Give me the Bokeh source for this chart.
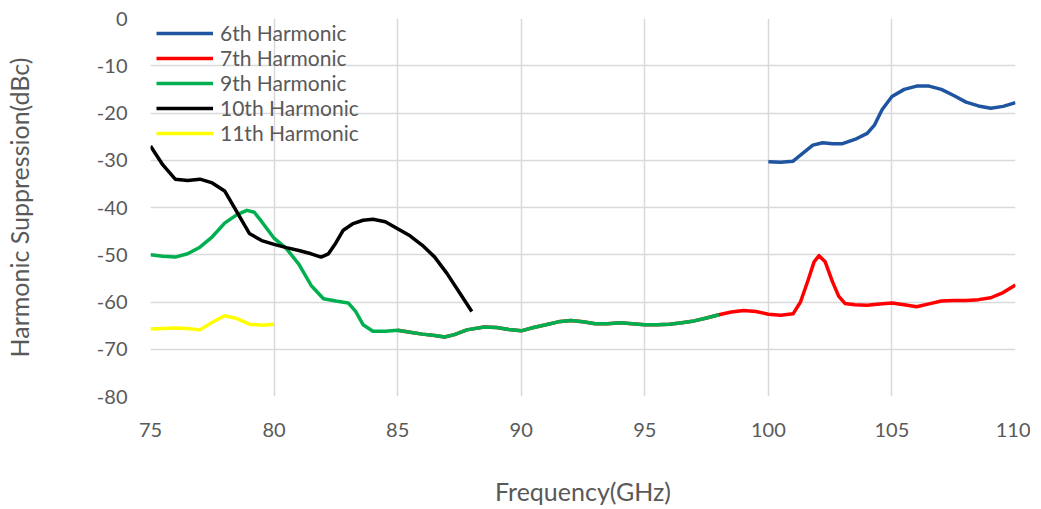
from bokeh.plotting import figure
from bokeh.models import FixedTicker, Legend, LegendItem, Range1d
from bokeh.embed import file_html
from bokeh.resources import INLINE

# ---- data ----
h6_x = [100, 100.5, 101, 101.4, 101.8, 102.2, 102.6, 103, 103.5, 104, 104.3, 104.6, 105, 105.5,
        106, 106.5, 107, 107.5, 108, 108.5, 109, 109.5, 110]
h6_y = [-30.3, -30.4, -30.2, -28.5, -26.8, -26.3, -26.5, -26.5, -25.6, -24.3, -22.5, -19.3, -16.5, -15.0,
        -14.3, -14.3, -15.0, -16.3, -17.7, -18.5, -19.0, -18.6, -17.8]

h7_x = [85, 85.5, 86, 86.5, 86.9, 87.3, 87.8, 88.5, 89, 89.5, 90, 90.5, 91, 91.5, 92, 92.5, 93, 93.5,
        94, 94.5, 95, 95.5, 96, 96.5, 97, 97.5, 98, 98.5, 99, 99.5, 100, 100.5, 101, 101.3, 101.6,
        101.85, 102.05, 102.3, 102.6, 102.85, 103.1, 103.5, 104, 104.5, 105, 105.5, 106, 106.5, 107,
        107.5, 108, 108.5, 109, 109.5, 110]
h7_y = [-66.0, -66.4, -66.8, -67.1, -67.4, -66.9, -65.9, -65.3, -65.4, -65.8, -66.1, -65.4, -64.8, -64.2,
        -63.9, -64.2, -64.6, -64.6, -64.4, -64.6, -64.8, -64.8, -64.7, -64.4, -64.0, -63.4, -62.7,
        -62.1, -61.8, -62.0, -62.6, -62.8, -62.5, -60.0, -55.5, -51.5, -50.2, -51.5, -55.8, -58.8,
        -60.3, -60.6, -60.7, -60.4, -60.2, -60.6, -61.0, -60.4, -59.8, -59.7, -59.7, -59.5, -59.1,
        -58.0, -56.4]

h9_x = [75, 75.5, 76, 76.5, 77, 77.5, 78, 78.5, 78.9, 79.2, 79.5, 80, 80.5, 81, 81.5, 82, 82.5, 83,
        83.3, 83.6, 84, 84.5, 85, 85.5, 86, 86.5, 86.9, 87.3, 87.8, 88.5, 89, 89.5, 90, 90.5, 91,
        91.5, 92, 92.5, 93, 93.5, 94, 94.5, 95, 95.5, 96, 96.5, 97, 97.5, 98]
h9_y = [-50.0, -50.3, -50.5, -49.8, -48.4, -46.2, -43.3, -41.5, -40.6, -41.0, -43.0, -46.5, -48.7,
        -52.0, -56.5, -59.3, -59.8, -60.2, -62.0, -64.8, -66.2, -66.2, -66.0, -66.4, -66.8, -67.1,
        -67.4, -66.9, -65.9, -65.3, -65.4, -65.8, -66.1, -65.4, -64.8, -64.2, -63.9, -64.2, -64.6,
        -64.6, -64.4, -64.6, -64.8, -64.8, -64.7, -64.4, -64.0, -63.4, -62.7]

h10_x = [75, 75.5, 76, 76.5, 77, 77.5, 78, 78.5, 79, 79.5, 80, 80.5, 81, 81.5, 81.9, 82.2, 82.5, 82.8,
         83.2, 83.6, 84, 84.5, 85, 85.5, 86, 86.5, 87, 87.5, 88]
h10_y = [-27.0, -31.0, -34.0, -34.3, -34.0, -34.8, -36.5, -41.0, -45.5, -47.0, -47.8, -48.5, -49.1,
         -49.8, -50.5, -49.8, -47.5, -44.8, -43.4, -42.7, -42.5, -43.0, -44.5, -46.0, -48.0, -50.5,
         -54.0, -58.0, -62.0]

h11_x = [75, 75.5, 76, 76.5, 77, 77.5, 78, 78.5, 79, 79.5, 80]
h11_y = [-65.7, -65.6, -65.5, -65.6, -65.9, -64.3, -62.9, -63.5, -64.7, -64.9, -64.7]

x_ticks = [75, 80, 85, 90, 95, 100, 105, 110]
y_ticks = [0, -10, -20, -30, -40, -50, -60, -70, -80]
y_tick_labels = ["0", "-10", "-20", "-30", "-40", "-50", "-60", "-70", "-80"]

FONT = "Lato"
TXT = "#595959"

p = figure(width=1030, height=508, output_backend="svg", toolbar_location=None,
           x_range=Range1d(75, 110), y_range=Range1d(-80, 0),
           min_border_left=150, min_border_right=15, min_border_top=18, min_border_bottom=110)
p.outline_line_color = None
p.background_fill_color = "white"
p.border_fill_color = "white"

for ax in (p.xaxis[0], p.yaxis[0]):
    ax.axis_line_color = None
    ax.major_tick_line_color = None
    ax.minor_tick_line_color = None
    ax.major_label_text_font = FONT
    ax.major_label_text_font_size = "20px"
    ax.major_label_text_color = TXT
    ax.axis_label_text_font = FONT
    ax.axis_label_text_font_size = "25px"
    ax.axis_label_text_font_style = "normal"
    ax.axis_label_text_color = TXT

p.xaxis.ticker = FixedTicker(ticks=x_ticks)
p.yaxis.ticker = FixedTicker(ticks=y_ticks)
p.yaxis.major_label_overrides = {t: s for t, s in zip(y_ticks, y_tick_labels)}
p.xaxis.axis_label = "Frequency(GHz)"
p.yaxis.axis_label = "Harmonic Suppression(dBc)"
p.xaxis.major_label_standoff = 20
p.yaxis.major_label_standoff = 17
p.xaxis.axis_label_standoff = 36
p.yaxis.axis_label_standoff = 60

p.xgrid.grid_line_color = "#d9d9d9"
p.ygrid.grid_line_color = "#d9d9d9"
p.xgrid.grid_line_width = 1.5
p.ygrid.grid_line_width = 1.5

W = 3.5
r7 = p.line(h7_x, h7_y, line_color="#ff0000", line_width=W, line_join="round")
r9 = p.line(h9_x, h9_y, line_color="#00b050", line_width=W, line_join="round")
r10 = p.line(h10_x, h10_y, line_color="#000000", line_width=W, line_join="round")
r11 = p.line(h11_x, h11_y, line_color="#ffff00", line_width=W, line_join="round")
r6 = p.line(h6_x, h6_y, line_color="#1f55a0", line_width=W, line_join="round")

legend = Legend(items=[
    LegendItem(label="6th Harmonic", renderers=[r6]),
    LegendItem(label="7th Harmonic", renderers=[r7]),
    LegendItem(label="9th Harmonic", renderers=[r9]),
    LegendItem(label="10th Harmonic", renderers=[r10]),
    LegendItem(label="11th Harmonic", renderers=[r11]),
], location=(6, 251))
legend.margin = 0
legend.padding = 0
legend.spacing = 0
legend.glyph_width = 57
legend.glyph_height = 20
legend.label_height = 20
legend.label_standoff = 7
legend.label_text_font = FONT
legend.label_text_font_size = "21px"
legend.label_text_color = TXT
legend.background_fill_alpha = 0
legend.border_line_color = None
p.add_layout(legend, "center")

open("out.html", "w").write(file_html(p, INLINE))
